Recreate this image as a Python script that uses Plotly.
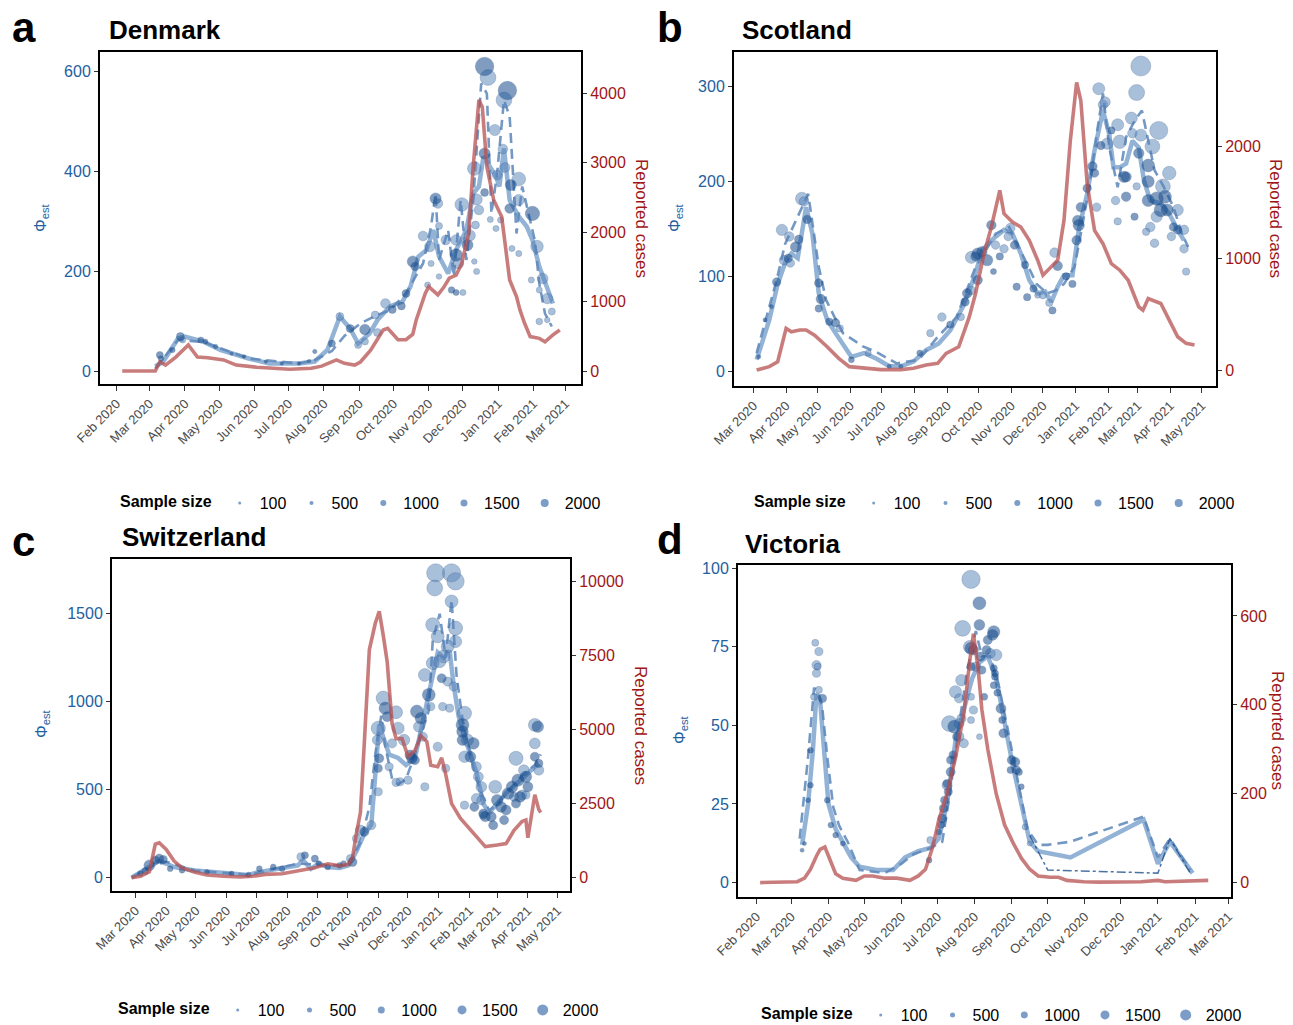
import pandas as pd
import plotly.graph_objects as go

# ---------------- data (days counted from 2020-01-01) ----------------
# Denmark
a_case_day = [36,65,69,74,83,94,102,111,125,136,154,169,183,202,211,224,231,240,245,254,260,265,269,273,278,285,291,294,298,302,305,313,318,323,329,334,340,344,349,352,356,362,369,371,376,382,385,389,394,402,407,414,420]
a_case_val = [0,0,130,85,200,375,200,190,160,85,55,45,25,40,70,160,110,85,130,300,450,590,615,540,450,450,530,735,925,1120,1215,1095,1200,1335,1380,1550,1980,2940,3900,3800,2940,2460,2220,1980,1310,1070,880,690,495,470,420,520,590]
a_fit_day = [65,72,85,91,107,122,147,165,191,205,216,227,236,243,253,260,271,282,289,296,303,309,314,322,329,338,344,349,353,358,364,367,371,376,384,391,396,402,409,414]
a_fit_val = [9,19,65,69,59,42,25,15,15,19,42,109,85,55,75,102,129,139,169,229,242,282,229,195,242,282,355,369,429,409,389,369,445,342,309,289,262,209,162,135]
a_dash_day = [65,85,107,147,191,205,220,231,245,258,271,285,300,307,311,314,322,327,333,338,344,351,356,360,365,371,376,382,387,393,398,402,407,413]
a_dash_val = [5,62,58,25,15,22,40,70,95,110,122,155,215,289,355,222,282,189,342,222,342,575,555,315,395,542,509,275,369,309,262,175,115,89]
a_pt_day = [354,357,374,371,363,354,370,345,365,372,377,384,384,376,396,347,354,349,346,341,339,334,311,313,314,320,329,329,331,300,306,291,293,307,304,314,325,329,335,347,345,359,364,368,378,384,395,402,413,405,400,402,409,409,285,281,273,267,258,260,249,249,243,236,227,220,205,69,70,80,87,89,105,109,118,132,143,162,176,191,200]
a_pt_phi = [609,587,561,542,482,435,444,405,392,407,372,384,342,325,315,343,357,322,292,271,252,333,345,335,290,262,262,232,215,270,249,219,209,215,172,189,162,157,157,199,219,303,285,302,245,235,182,99,119,185,249,162,145,102,155,130,123,135,112,77,83,59,52,85,109,55,39,32,25,42,69,62,62,59,49,35,29,19,15,15,20]
a_pt_n = [5500,4000,5500,4000,2000,2000,1500,3000,1500,1500,2000,3000,2000,1500,3300,2000,1000,1500,1000,2000,2000,3000,2000,1500,800,1500,1800,2500,1800,1500,1800,2000,1200,600,600,500,700,600,600,600,500,600,600,600,600,600,600,700,800,1800,2500,600,1800,500,1000,1000,1000,1500,1000,1000,1800,800,800,1000,1000,800,300,800,500,500,1000,600,600,400,300,200,200,200,200,200,200]
a_pt_dark = [1,0,1,0,0,1,0,0,0,0,1,0,0,1,1,0,1,0,0,0,1,0,1,0,0,0,0,1,0,0,0,1,1,0,0,0,1,1,0,0,0,0,0,0,0,0,0,0,0,0,0,0,0,0,1,1,1,0,0,0,1,0,0,1,0,1,1,1,1,1,1,0,1,1,1,1,1,1,1,1,1]

# Scotland
b_case_day = [63,75,83,91,96,104,110,118,130,141,151,165,181,200,212,224,235,243,255,265,271,279,286,294,298,306,314,322,330,335,343,349,355,361,367,371,377,384,392,400,408,416,426,430,435,447,455,463,471,479]
b_case_val = [0,30,74,372,342,357,357,312,208,104,30,15,3,3,15,45,59,149,208,475,684,1040,1278,1605,1397,1322,1278,1159,981,847,921,981,1337,2050,2571,2407,1664,1248,1129,951,892,802,565,535,639,594,446,297,238,223]
b_fit_day = [63,75,83,91,96,102,110,116,122,130,138,145,153,165,177,189,200,212,224,236,247,259,271,277,286,298,306,314,322,330,337,343,349,355,363,369,377,384,392,398,402,408,414,420,426,431,437,447,455,463,469]
b_fit_val = [12,54,92,117,124,119,173,145,82,54,40,29,15,19,13,5,5,10,22,29,43,68,103,127,138,149,145,124,96,82,84,73,89,101,101,149,187,233,275,250,215,215,219,243,236,201,180,177,166,149,138]
b_dash_day = [63,82,90,102,112,122,129,137,145,164,177,196,217,235,253,271,279,290,303,312,321,329,339,347,355,365,371,379,387,392,398,406,414,422,429,435,441,450,459,467,473]
b_dash_val = [19,96,134,163,187,110,75,57,40,26,20,8,12,36,57,110,124,145,152,131,110,92,82,85,92,110,145,194,257,293,236,194,247,264,275,243,212,194,173,145,131]
b_pt_day = [65,71,77,82,89,87,94,93,95,100,103,106,108,111,122,124,122,132,138,142,153,169,189,200,218,228,239,247,257,261,263,267,271,267,273,273,277,282,286,288,290,294,298,302,304,308,310,318,320,326,330,335,341,346,344,349,357,363,367,368,369,371,377,382,384,388,392,394,396,386,390,400,406,408,412,414,414,419,420,424,428,428,426,435,435,439,445,449,455,435,443,451,447,453,443,437,441,457,463,463,469,469,471,459,433,422,404,406,424]
b_pt_phi = [15,54,68,94,117,149,142,119,114,131,139,182,179,160,93,76,66,52,51,45,12,19,5,5,19,40,57,49,57,73,82,85,121,120,124,96,126,117,154,105,133,121,129,142,151,133,89,112,78,87,80,80,72,125,64,111,100,92,138,159,154,173,193,216,209,298,281,284,240,173,238,254,260,242,205,205,184,267,251,294,322,249,230,217,200,237,254,195,209,180,182,184,170,170,163,152,135,142,170,149,129,149,105,152,147,163,180,158,195]
b_pt_n = [100,100,100,400,500,700,500,400,400,600,400,900,500,400,400,500,300,300,400,300,200,200,100,100,200,300,400,300,300,400,500,400,500,800,700,500,600,700,500,200,400,300,400,400,500,400,300,300,300,300,200,300,300,500,300,500,300,300,500,600,700,500,400,500,400,800,500,600,700,400,400,300,800,1000,700,600,500,800,500,1400,2200,800,600,900,800,1200,1800,1200,1000,800,1000,900,1000,800,700,500,400,400,700,400,400,500,300,400,300,300,400,300,300]
b_pt_dark = [1,1,1,1,0,0,0,1,0,1,1,0,0,1,1,1,1,1,1,0,1,0,1,1,1,0,0,1,0,1,1,0,1,0,1,1,1,1,1,1,0,1,0,0,0,1,1,1,1,1,0,0,0,0,1,1,1,1,1,1,1,1,1,1,1,0,0,0,0,0,1,1,0,0,1,1,1,0,0,0,0,0,1,1,1,0,0,0,0,1,1,1,1,1,0,0,0,0,0,1,0,0,0,1,0,1,0,0,0]

# Switzerland
c_case_day = [56,65,74,80,84,91,99,107,120,132,149,166,178,191,208,224,241,254,266,275,279,283,287,291,296,302,306,310,314,319,323,329,335,342,348,354,358,365,369,373,379,388,396,404,413,425,434,442,450,454,456,463,467,469]
c_case_val = [0,45,200,1130,1180,950,560,330,180,90,45,20,45,110,130,220,330,470,400,450,680,1500,2200,4600,7700,8600,9000,8200,7300,5200,4700,4700,4100,4300,4800,4600,3800,3750,4050,3500,2500,2000,1700,1400,1050,1100,1150,1600,1900,1950,1350,2800,2300,2200]
c_fit_day = [56,68,78,84,91,99,120,141,162,174,183,195,212,224,229,237,245,254,266,275,283,291,298,302,306,310,316,325,333,342,350,358,365,371,377,381,386,392,398,404,411,417,425,434,442,450,458,467]
c_fit_val = [0,40,80,95,80,60,40,30,25,15,30,40,55,70,100,50,80,60,55,70,150,250,300,600,870,800,700,680,640,680,880,1100,1280,1250,1290,1100,920,800,700,600,420,370,420,480,520,560,600,650]
c_dash_day = [56,78,91,120,174,224,254,275,287,296,302,308,312,319,325,333,342,350,356,360,367,373,379,384,390,396,402,409,417,425,438,450,463,469]
c_dash_val = [0,70,90,40,15,80,70,70,200,400,700,920,750,560,530,560,700,850,950,1350,1500,1250,1580,1150,900,750,600,480,380,420,500,580,640,700]
c_pt_day = [363,379,383,362,379,360,365,383,383,375,371,360,367,352,356,369,375,381,358,370,377,344,348,346,350,365,373,352,310,312,323,325,331,314,305,304,306,305,305,319,316,327,323,337,339,335,342,287,291,298,283,279,277,392,390,390,395,401,390,392,398,404,406,409,404,409,392,402,411,411,413,419,421,423,425,429,434,432,436,440,444,446,448,452,454,456,444,450,442,463,466,463,463,467,467,454,74,80,84,88,65,70,95,107,132,157,174,185,199,208,227,231,241,245,254,266,270]
c_pt_phi = [1732,1732,1684,1646,1570,1437,1371,1418,1342,1314,1257,1219,1228,1152,1039,1133,1114,1086,972,972,963,944,906,858,801,744,621,516,1020,963,940,849,782,915,849,782,678,621,488,763,630,545,541,697,678,554,668,270,260,298,222,89,108,934,868,830,782,763,782,687,687,630,573,516,450,440,412,402,364,355,346,346,298,516,440,402,384,327,478,516,678,554,459,611,573,516,421,469,459,868,858,763,687,649,611,469,70,99,108,103,23,38,51,42,32,23,17,51,61,51,118,127,108,80,61,70,80]
c_pt_n = [2000,2000,1800,1500,1000,1200,1000,1200,900,1000,1000,1000,900,1000,1000,500,500,500,400,400,400,1000,800,700,500,500,400,400,1200,900,1000,900,800,600,1200,600,500,400,400,500,400,400,400,600,700,400,500,600,500,500,400,500,400,1200,1000,800,900,800,700,800,700,600,600,700,600,500,400,500,500,400,600,600,500,1000,800,700,600,500,800,800,1200,900,700,700,800,600,500,600,500,1000,800,700,500,400,600,400,700,400,500,400,200,300,200,200,150,150,150,200,200,200,400,300,300,200,200,200,200]
c_pt_dark = [0,0,0,0,0,0,0,0,0,0,0,0,0,0,1,1,0,0,0,0,0,1,1,0,0,0,0,0,0,1,0,0,0,1,0,0,1,1,0,0,0,0,0,1,1,0,1,0,1,0,0,1,0,0,1,1,0,1,1,0,1,0,0,0,0,0,0,1,1,0,1,1,1,0,1,1,1,1,1,1,0,1,1,0,1,1,1,0,0,0,1,0,1,1,0,0,1,1,1,1,1,1,1,1,1,1,1,1,1,1,0,1,1,1,1,1,1]

# Victoria
d_case_day = [34,65,71,76,81,84,88,91,97,103,114,121,128,138,148,159,166,172,178,183,190,197,204,209,212,216,219,224,231,238,245,252,259,266,276,283,290,304,317,352,366,372,386,408]
d_case_val = [0,2,10,30,60,75,80,60,20,10,5,15,15,10,10,5,15,30,80,140,200,280,380,500,560,480,390,300,200,130,90,55,30,15,12,12,5,2,1,2,5,2,3,5]
d_fit_day = [69,74,78,81,84,88,91,97,103,110,117,131,145,155,166,176,183,190,197,204,211,217,224,231,238,245,252,259,266,293,354,366,376,386,395]
d_fit_val = [12,25,42,60,58,40,25,17,13,8,5,4,4,8,10,11,14,25,45,55,65,70,72,65,50,37,25,13,10,8,20,6,13,8,3]
d_dash_day = [67,74,79,83,86,90,95,100,107,117,138,152,162,176,186,193,200,207,214,219,226,233,240,248,257,266,274,293,354,366,376,393]
d_dash_val = [14,40,62,60,55,40,24,18,13,4,3,6,9,11,13,30,50,68,80,72,72,63,50,35,17,12,12,13,21,8,14,4]
d_dash2_day = [259,274,366,376,393]
d_dash2_val = [15,4,3,14,3]
d_pt_day = [210,217,203,217,229,228,209,210,212,224,223,231,226,218,219,214,210,229,230,230,229,232,221,202,197,200,210,212,210,192,196,200,202,200,198,204,195,193,193,190,190,191,188,187,186,185,183,176,175,217,235,236,237,244,247,248,243,250,252,255,259,80,83,81,82,81,86,83,79,76,76,74,71,69,90,93,97,103]
d_pt_phi = [96.5,88.9,80.9,82,79.8,78.8,75,74.5,74,77.2,74,72.4,72.9,71.9,67.6,68.7,68.7,68.2,66.6,65.5,62.8,60.4,59.1,64.4,60.7,58.6,59.1,54.9,51.7,50.6,49.6,50.6,52.2,46.4,46.4,44.3,40.6,39,35.2,31,31.5,28.9,26.2,23.6,20.4,18.3,16.1,13.5,7.1,46.4,55.4,51.7,47.5,39,38.4,35.8,35.8,35.2,30.5,17.7,12.4,76.3,73.5,69.2,68.7,66.6,58.6,61.3,59.1,42.1,31,26.2,12.4,10.3,26.2,18.3,15.1,12.4]
d_pt_n = [2000,1000,1500,700,900,700,1000,900,600,500,500,800,600,500,400,500,400,300,300,300,300,300,300,800,900,500,300,400,300,1500,1000,600,500,600,400,500,400,400,500,600,400,400,400,400,500,300,200,300,200,200,600,300,500,500,500,400,300,300,200,200,150,300,400,500,300,400,400,300,300,200,200,150,100,100,200,200,200,150]
d_pt_dark = [0,1,0,1,1,1,0,1,1,1,1,0,0,1,1,0,1,1,1,1,1,1,1,0,0,0,0,0,0,0,1,0,0,0,1,0,1,1,1,0,1,1,1,1,1,1,1,0,1,0,1,1,1,1,1,1,1,1,1,0,0,0,0,0,0,0,1,0,0,1,1,1,1,1,1,1,1,1]

legend_values = [100, 500, 1000, 1500, 2000]
panel_letters = ["a", "b", "c", "d"]
panel_names = ["Denmark", "Scotland", "Switzerland", "Victoria"]

# ---------------- styling ----------------
BASE = pd.Timestamp("2020-01-01")
RED = "rgba(183,80,80,0.75)"
FIT = "rgba(110,152,200,0.75)"
DASH = "rgba(92,134,186,0.85)"
DASH2 = "rgba(30,80,140,0.8)"
PT_L = "rgba(88,132,186,0.72)"
PT_D = "rgba(24,78,142,0.78)"
BLUE_TXT = "#22609f"
RED_TXT = "#a01616"
W, H = 1293, 1025


def dates(days):
    return [BASE + pd.Timedelta(days=float(d)) for d in days]


def px(x, y):
    return x / W, 1 - y / H


panels = [
    dict(case=(a_case_day, a_case_val), fit=(a_fit_day, a_fit_val), dash=(a_dash_day, a_dash_val), dash2=None,
         pts=(a_pt_day, a_pt_phi, a_pt_n, a_pt_dark), sr=32,
         box=(100, 581, 52, 384), xr=(16.5, 438.6), yl=(-26, 638), yr=(-187, 4590),
         lt=[0, 200, 400, 600], rt=[0, 1000, 2000, 3000, 4000], tick0="2020-02-01",
         letter=(10, 27), title=(107, 30), ltitle=(42, 218), rtitle=(641, 218),
         leg=(118, 503), legsize=[3, 4, 6, 7, 8]),
    dict(case=(b_case_day, b_case_val), fit=(b_fit_day, b_fit_val), dash=(b_dash_day, b_dash_val), dash2=None,
         pts=(b_pt_day, b_pt_phi, b_pt_n, b_pt_dark), sr=11,
         box=(734, 1216, 52, 386), xr=(41.5, 499.4), yl=(-15.8, 336.8), yr=(-143, 2842),
         lt=[0, 100, 200, 300], rt=[0, 1000, 2000], tick0="2020-03-01",
         letter=(655, 27), title=(740, 30), ltitle=(676, 218), rtitle=(1275, 218),
         leg=(752, 503), legsize=[3, 4, 6, 7, 8]),
    dict(case=(c_case_day, c_case_val), fit=(c_fit_day, c_fit_val), dash=(c_dash_day, c_dash_val), dash2=None,
         pts=(c_pt_day, c_pt_phi, c_pt_n, c_pt_dark), sr=12,
         box=(112, 570, 559, 891), xr=(36.3, 498.5), yl=(-76, 1811), yr=(-452, 10772),
         lt=[0, 500, 1000, 1500], rt=[0, 2500, 5000, 7500, 10000], tick0="2020-03-01",
         letter=(10, 541), title=(120, 537), ltitle=(42, 724), rtitle=(641, 725),
         leg=(116, 1010), legsize=[3, 5, 7, 9, 11]),
    dict(case=(d_case_day, d_case_val), fit=(d_fit_day, d_fit_val), dash=(d_dash_day, d_dash_val),
         dash2=(d_dash2_day, d_dash2_val),
         pts=(d_pt_day, d_pt_phi, d_pt_n, d_pt_dark), sr=12,
         box=(738, 1231, 565, 897), xr=(15.5, 427), yl=(-4.6, 101.05), yr=(-32.4, 714.6),
         lt=[0, 25, 50, 75, 100], rt=[0, 200, 400, 600], tick0="2020-02-01",
         letter=(655, 539), title=(743, 544), ltitle=(680, 730), rtitle=(1278, 730),
         leg=(759, 1015), legsize=[3, 5, 7, 9, 11]),
]

fig = go.Figure()
layout = dict(width=W, height=H, margin=dict(l=0, r=0, t=0, b=0, pad=0, autoexpand=False),
              paper_bgcolor="white", plot_bgcolor="white",
              font=dict(family="Liberation Sans, Arial, sans-serif"), annotations=[])

for i, p in enumerate(panels):
    xid = "x" if i == 0 else f"x{i+1}"
    yl_id = "y" if i == 0 else f"y{2*i+1}"
    yr_id = f"y{2*i+2}"
    xkey = "xaxis" if i == 0 else f"xaxis{i+1}"
    ylkey = "yaxis" if i == 0 else f"yaxis{2*i+1}"
    yrkey = f"yaxis{2*i+2}"
    legkey = "legend" if i == 0 else f"legend{i+1}"
    x0, x1, y0, y1 = p["box"]
    xd = [x0 / W, x1 / W]
    yd = [1 - y1 / H, 1 - y0 / H]

    fd, fv = p["fit"]
    fig.add_trace(go.Scatter(x=dates(fd), y=fv, mode="lines", line=dict(color=FIT, width=4.5),
                             xaxis=xid, yaxis=yl_id, showlegend=False, hoverinfo="skip"))
    dd, dv = p["dash"]
    fig.add_trace(go.Scatter(x=dates(dd), y=dv, mode="lines", line=dict(color=DASH, width=2.6, dash="10px,6px"),
                             xaxis=xid, yaxis=yl_id, showlegend=False, hoverinfo="skip"))
    if p["dash2"] is not None:
        d2d, d2v = p["dash2"]
        fig.add_trace(go.Scatter(x=dates(d2d), y=d2v, mode="lines",
                                 line=dict(color=DASH2, width=1.5, dash="dashdot"),
                                 xaxis=xid, yaxis=yl_id, showlegend=False, hoverinfo="skip"))
    pday, pphi, pn, pdark = p["pts"]
    for flag, col in ((0, PT_L), (1, PT_D)):
        sel = [k for k in range(len(pday)) if pdark[k] == flag]
        fig.add_trace(go.Scatter(
            x=dates([pday[k] for k in sel]), y=[pphi[k] for k in sel], mode="markers",
            marker=dict(size=[pn[k] for k in sel], sizemode="area", sizeref=p["sr"], color=col,
                        line=dict(width=0.6, color="rgba(20,60,115,0.55)")),
            xaxis=xid, yaxis=yl_id, showlegend=False, hoverinfo="skip"))
    cd, cv = p["case"]
    fig.add_trace(go.Scatter(x=dates(cd), y=cv, mode="lines", line=dict(color=RED, width=3.6),
                             xaxis=xid, yaxis=yr_id, showlegend=False, hoverinfo="skip"))
    for v, s in zip(legend_values, p["legsize"]):
        fig.add_trace(go.Scatter(x=[None], y=[None], mode="markers", name=str(v),
                                 marker=dict(size=s, color="rgba(100,140,190,0.85)"),
                                 xaxis=xid, yaxis=yl_id, legend=legkey, showlegend=True))

    layout[xkey] = dict(domain=xd, anchor=yl_id, type="date",
                        range=[dates([p["xr"][0]])[0], dates([p["xr"][1]])[0]],
                        dtick="M1", tick0=p["tick0"], tickformat="%b %Y", tickangle=-45,
                        tickfont=dict(size=13, color="#4d4d4d"),
                        showline=True, mirror=True, linecolor="black", linewidth=2,
                        ticks="outside", ticklen=5, tickcolor="#333", showgrid=False, zeroline=False)
    layout[ylkey] = dict(domain=yd, anchor=xid, range=list(p["yl"]), tickvals=p["lt"],
                         ticktext=[str(t) for t in p["lt"]],
                         tickfont=dict(size=16, color=BLUE_TXT), showline=True, linecolor="black",
                         linewidth=2, ticks="outside", ticklen=4, tickcolor="#333",
                         showgrid=False, zeroline=False)
    layout[yrkey] = dict(overlaying=yl_id, side="right", anchor=xid, range=list(p["yr"]),
                         tickvals=p["rt"], ticktext=[str(t) for t in p["rt"]],
                         tickfont=dict(size=16, color=RED_TXT), showline=True,
                         linecolor="black", linewidth=2, ticks="outside", ticklen=4, tickcolor="#333",
                         showgrid=False, zeroline=False)
    lx, ly = px(*p["leg"])
    layout[legkey] = dict(x=lx, y=ly, xanchor="left", yanchor="middle", orientation="h",
                          title=dict(text="<b>Sample size</b>", side="left", font=dict(size=16, color="black")),
                          font=dict(size=16, color="black"), bgcolor="rgba(0,0,0,0)",
                          itemsizing="trace", tracegroupgap=0)

    ax, ay = px(*p["letter"])
    layout["annotations"].append(dict(text=f"<b>{panel_letters[i]}</b>", x=ax, y=ay, xref="paper", yref="paper",
                                      xanchor="left", yanchor="middle", showarrow=False,
                                      font=dict(size=42, color="black")))
    tx, ty = px(*p["title"])
    layout["annotations"].append(dict(text=f"<b>{panel_names[i]}</b>", x=tx, y=ty, xref="paper", yref="paper",
                                      xanchor="left", yanchor="middle", showarrow=False,
                                      font=dict(size=26, color="black")))
    qx, qy = px(*p["ltitle"])
    layout["annotations"].append(dict(text="Φ<sub>est</sub>", x=qx, y=qy, xref="paper", yref="paper",
                                      xanchor="center", yanchor="middle", showarrow=False, textangle=-90,
                                      font=dict(size=16, color=BLUE_TXT)))
    rx, ry = px(*p["rtitle"])
    layout["annotations"].append(dict(text="Reported cases", x=rx, y=ry, xref="paper", yref="paper",
                                      xanchor="center", yanchor="middle", showarrow=False, textangle=90,
                                      font=dict(size=17, color=RED_TXT)))

fig.update_layout(**layout)
fig.write_html("out.html")
